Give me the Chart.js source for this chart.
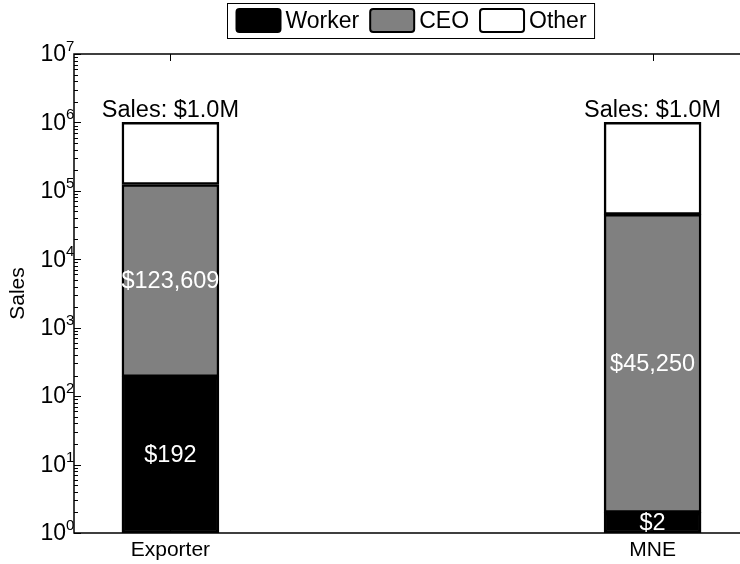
<!DOCTYPE html>
<html>
<head>
<meta charset="utf-8">
<script src="https://cdn.jsdelivr.net/npm/chart.js@4"></script>
<style>
  html, body { margin: 0; padding: 0; background: #fff; overflow: hidden; }
  #wrap { width: 740px; height: 564px; overflow: hidden; }
  canvas { display: block; }
</style>
</head>
<body>
<div id="wrap"><canvas id="chart" width="750" height="564"></canvas></div>
<script>
const categories = ["Exporter", "MNE"];
const seriesNames = ["Worker", "CEO", "Other"];
const seriesColors = ["#000000", "#808080", "#ffffff"];
const workerPay = [192, 2];
const ceoPay = [123609, 45250];
const totalSales = [1000000, 1000000];
const yTickExponents = [0, 1, 2, 3, 4, 5, 6, 7];

// whatever is left of sales after worker and CEO pay
const otherSales = totalSales.map((t, i) => t - workerPay[i] - ceoPay[i]);

const FONT = "'Liberation Sans', Arial, Helvetica, sans-serif";

const points = vals => vals.map((v, i) => ({ x: i + 1, y: v }));

const datasets = [workerPay, ceoPay, otherSales].map((vals, k) => ({
  label: seriesNames[k],
  data: points(vals),
  backgroundColor: seriesColors[k],
  borderColor: "#000",
  borderWidth: 2.5,
  borderSkipped: false,
  barThickness: 97
}));

const money = v => "$" + v.toLocaleString("en-US");

// axes box + inward tick marks (drawn under the bars)
const frame = {
  id: "frame",
  beforeDatasetsDraw(chart) {
    const { ctx, chartArea: a, scales: { x, y } } = chart;
    ctx.save();
    ctx.strokeStyle = "#000";
    ctx.lineWidth = 1.5;
    ctx.beginPath();
    ctx.moveTo(a.right, a.top);
    ctx.lineTo(a.left, a.top);
    ctx.lineTo(a.left, a.bottom);
    ctx.lineTo(a.right, a.bottom);
    ctx.stroke();

    ctx.lineWidth = 1;
    ctx.beginPath();
    for (let d = 0; d < 7; d++) {
      for (let m = 1; m <= 9; m++) {
        const py = Math.round(y.getPixelForValue(m * Math.pow(10, d))) + 0.5;
        ctx.moveTo(a.left, py);
        ctx.lineTo(a.left + (m === 1 ? 7 : 4), py);
      }
    }
    const pTop = Math.round(y.getPixelForValue(1e7)) + 0.5;
    ctx.moveTo(a.left, pTop);
    ctx.lineTo(a.left + 7, pTop);
    categories.forEach((c, i) => {
      const px = Math.round(x.getPixelForValue(i + 1)) + 0.5;
      ctx.moveTo(px, a.top);
      ctx.lineTo(px, a.top + 7);
      ctx.moveTo(px, a.bottom);
      ctx.lineTo(px, a.bottom - 7);
    });
    ctx.stroke();
    ctx.restore();
  },
  afterDraw(chart) {
    const { ctx, chartArea: a, scales: { y } } = chart;
    ctx.save();
    ctx.fillStyle = "#000";
    yTickExponents.forEach(e => {
      const py = y.getPixelForValue(Math.pow(10, e));
      ctx.font = "23px " + FONT;
      ctx.textAlign = "right";
      ctx.textBaseline = "middle";
      ctx.fillText("10", a.left - 8, py + 1);
      ctx.font = "15px " + FONT;
      ctx.textAlign = "left";
      ctx.textBaseline = "alphabetic";
      ctx.fillText(String(e), a.left - 8, py - 3);
    });
    ctx.restore();
  }
};

// segment values inside the bars, total sales above them
const valueLabels = {
  id: "valueLabels",
  afterDatasetsDraw(chart) {
    const { ctx } = chart;
    ctx.save();
    ctx.textAlign = "center";
    ctx.font = "23.5px " + FONT;
    [workerPay, ceoPay].forEach((vals, k) => {
      chart.getDatasetMeta(k).data.forEach((bar, i) => {
        const { x, y, base } = bar.getProps(["x", "y", "base"], true);
        ctx.fillStyle = "#fff";
        ctx.textBaseline = "middle";
        ctx.fillText(money(vals[i]), x, (y + base) / 2 + 1);
      });
    });
    chart.getDatasetMeta(2).data.forEach((bar, i) => {
      const { x, y } = bar.getProps(["x", "y"], true);
      ctx.fillStyle = "#000";
      ctx.textBaseline = "alphabetic";
      ctx.fillText("Sales: $" + (totalSales[i] / 1e6).toFixed(1) + "M", x, y - 5);
    });
    ctx.restore();
  }
};

// boxed legend along the top
const boxLegend = {
  id: "boxLegend",
  afterDraw(chart) {
    const { ctx } = chart;
    const sw = 46, sh = 25, gap = 4, space = 10, pad = 8;
    const top = 3, h = 35, cx = 410.5;
    ctx.save();
    ctx.font = "23px " + FONT;
    const widths = chart.data.datasets.map(ds => ctx.measureText(ds.label).width);
    const total = pad * 2 + widths.reduce((s, w) => s + sw + gap + w, 0) + space * (widths.length - 1);
    const left = Math.round(cx - total / 2) + 0.5;
    ctx.strokeStyle = "#000";
    ctx.lineWidth = 1;
    ctx.fillStyle = "#fff";
    ctx.fillRect(left, top + 0.5, total, h);
    ctx.strokeRect(left, top + 0.5, total, h);
    let px = left + pad;
    chart.data.datasets.forEach((ds, k) => {
      ctx.beginPath();
      ctx.roundRect(px + 1, top + 5 + 1, sw - 2, sh - 2, 3);
      ctx.fillStyle = ds.backgroundColor;
      ctx.fill();
      ctx.lineWidth = 2;
      ctx.stroke();
      px += sw + gap;
      ctx.fillStyle = "#000";
      ctx.textAlign = "left";
      ctx.textBaseline = "middle";
      ctx.fillText(ds.label, px, top + h / 2 + 1.5);
      px += widths[k] + space;
    });
    ctx.restore();
  }
};

new Chart(document.getElementById("chart"), {
  type: "bar",
  data: { datasets },
  options: {
    responsive: false,
    animation: false,
    layout: { padding: { top: 54, right: 1, left: 0, bottom: 0 } },
    plugins: { legend: { display: false }, tooltip: { enabled: false } },
    scales: {
      x: {
        type: "linear",
        stacked: true,
        offset: false,
        min: 0.8,
        max: 2.2,
        grid: { display: false, offset: false },
        border: { display: false },
        afterBuildTicks: s => { s.ticks = categories.map((c, i) => ({ value: i + 1 })); },
        afterFit: s => { s.height = 31; },
        ticks: {
          autoSkip: false,
          maxRotation: 0,
          padding: -3,
          color: "#000",
          font: { family: FONT, size: 21 },
          callback: v => categories[v - 1] || ""
        }
      },
      y: {
        type: "logarithmic",
        stacked: true,
        min: 1,
        max: 1e7,
        grid: { display: false },
        border: { display: false },
        ticks: { display: false },
        afterFit: s => { s.width = 74; },
        title: {
          display: true,
          text: "Sales",
          color: "#000",
          font: { family: FONT, size: 21 },
          padding: { top: 6, bottom: 0 }
        }
      }
    }
  },
  plugins: [frame, valueLabels, boxLegend]
});
</script>
</body>
</html>
